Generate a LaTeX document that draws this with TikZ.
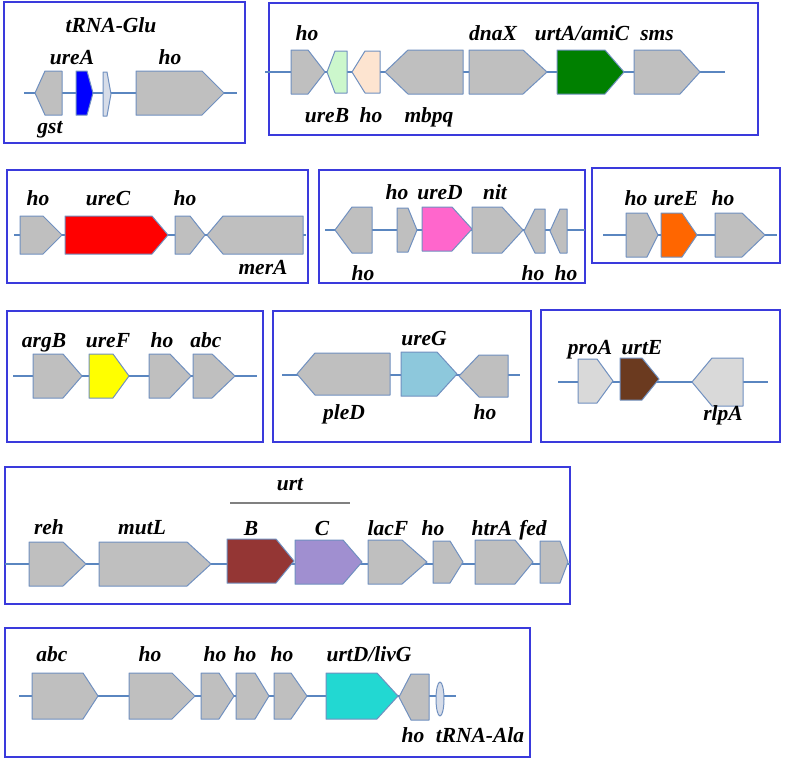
\documentclass[tikz,border=0pt]{standalone}
\usepackage{fontspec}
\setmainfont{Liberation Serif}
\definecolor{genegray}{HTML}{BFBFBF}
\definecolor{geneedge}{HTML}{7090C0}
\definecolor{backbone}{HTML}{5A86C0}
\definecolor{framecol}{HTML}{3A3ADC}
\definecolor{ureBcol}{HTML}{CCF7CC}
\definecolor{peach}{HTML}{FDE4D0}
\definecolor{palegray}{HTML}{D9D9D9}
\definecolor{trnacol}{HTML}{D6DCE8}
\definecolor{ureAcol}{HTML}{0000FF}
\definecolor{urtAcol}{HTML}{008000}
\definecolor{ureCcol}{HTML}{FF0000}
\definecolor{ureDcol}{HTML}{FF66CC}
\definecolor{ureEcol}{HTML}{FF6600}
\definecolor{ureFcol}{HTML}{FFFF00}
\definecolor{ureGcol}{HTML}{8DC8DC}
\definecolor{urtEcol}{HTML}{6B3A1F}
\definecolor{urtBcol}{HTML}{943634}
\definecolor{urtCcol}{HTML}{A08FD0}
\definecolor{urtDcol}{HTML}{22D8D2}
\tikzset{
  panelbox/.style={draw=framecol, line width=1.7pt},
  bbline/.style={draw=backbone, line width=1.8pt},
  genebox/.style={draw=geneedge, line width=1pt, line join=round},
  lbl/.style={font=\bfseries\itshape\fontsize{21.5}{25}\selectfont, inner sep=0pt, text height=14pt, text depth=0pt},
}
% right-pointing gene: x1, body end, tip x, y mid, half height, fill
\newcommand\gr[6]{\filldraw[genebox, fill=#6] (#1,#4-#5) -- (#2,#4-#5) -- (#3,#4) -- (#2,#4+#5) -- (#1,#4+#5) -- cycle;}
% left-pointing gene: tip x, body start, x2, y mid, half height, fill
\newcommand\gl[6]{\filldraw[genebox, fill=#6] (#3,#4-#5) -- (#2,#4-#5) -- (#1,#4) -- (#2,#4+#5) -- (#3,#4+#5) -- cycle;}
\begin{document}
\begin{tikzpicture}[x=1pt, y=-1pt]
\useasboundingbox[fill=white] (0,0) rectangle (787,763);

% ---------- Panel 1 ----------
\draw[panelbox] (4,2) rectangle (245,143);
\draw[bbline] (24,93) -- (237,93);
\gl{35}{45}{62}{93}{22}{genegray}
\gr{76}{87}{93}{93}{22}{ureAcol}
\gr{103}{107}{111}{94}{22}{trnacol}
\gr{136}{202}{224}{93}{22}{genegray}
\node[lbl] (p1a) at (111,25) {tRNA-Glu};
\node[lbl] (p1b) at (72,57) {ureA};
\node[lbl] (p1c) at (170,57) {ho};
\node[lbl] (p1d) at (50,126) {gst};

% ---------- Panel 2 ----------
\draw[panelbox] (269,3) rectangle (758,135);
\draw[bbline] (265,72) -- (725,72);
\gr{291}{308}{325}{72}{22}{genegray}
\gl{327}{335}{347}{72}{21}{ureBcol}
\gl{352}{365}{380}{72}{21}{peach}
\gl{385}{408}{463}{72}{22}{genegray}
\gr{469}{523}{547}{72}{22}{genegray}
\gr{557}{605}{624}{72}{22}{urtAcol}
\gr{634}{680}{700}{72}{22}{genegray}
\node[lbl] (p2a) at (307,33) {ho};
\node[lbl] (p2b) at (493,33) {dnaX};
\node[lbl] (p2c) at (582,33) {urtA/amiC};
\node[lbl] (p2d) at (657,33) {sms};
\node[lbl] (p2e) at (327,115) {ureB};
\node[lbl] (p2f) at (371,115) {ho};
\node[lbl] (p2g) at (429,115) {mbpq};

% ---------- Panel 3 ----------
\draw[panelbox] (7,170) rectangle (308,283);
\draw[bbline] (14,235) -- (306,235);
\gr{20}{43}{62}{235}{19}{genegray}
\gr{65}{152}{168}{235}{19}{ureCcol}
\gr{175}{190}{205}{235}{19}{genegray}
\gl{207}{223}{303}{235}{19}{genegray}
\node[lbl] (p3a) at (38,198) {ho};
\node[lbl] (p3b) at (108,198) {ureC};
\node[lbl] (p3c) at (185,198) {ho};
\node[lbl] (p3d) at (263,267) {merA};

% ---------- Panel 4 ----------
\draw[panelbox] (319,170) rectangle (585,283);
\draw[bbline] (325,230) -- (585,230);
\gl{335}{352}{372}{230}{23}{genegray}
\gr{397}{408}{417}{230}{22}{genegray}
\gr{422}{452}{472}{229}{22}{ureDcol}
\gr{472}{502}{523}{230}{23}{genegray}
\gl{524}{535}{545}{231}{22}{genegray}
\gl{550}{560}{567}{231}{22}{genegray}
\node[lbl] (p4a) at (397,192) {ho};
\node[lbl] (p4b) at (440,192) {ureD};
\node[lbl] (p4c) at (495,192) {nit};
\node[lbl] (p4d) at (363,273) {ho};
\node[lbl] (p4e) at (533,273) {ho};
\node[lbl] (p4f) at (566,273) {ho};

% ---------- Panel 5 ----------
\draw[panelbox] (592,168) rectangle (780,263);
\draw[bbline] (603,235) -- (777,235);
\gr{626}{647}{658}{235}{22}{genegray}
\gr{661}{682}{697}{235}{22}{ureEcol}
\gr{715}{742}{765}{235}{22}{genegray}
\node[lbl] (p5a) at (636,198) {ho};
\node[lbl] (p5b) at (676,198) {ureE};
\node[lbl] (p5c) at (723,198) {ho};

% ---------- Panel 6 ----------
\draw[panelbox] (7,311) rectangle (263,442);
\draw[bbline] (13,376) -- (257,376);
\gr{33}{63}{82}{376}{22}{genegray}
\gr{89}{113}{129}{376}{22}{ureFcol}
\gr{149}{170}{191}{376}{22}{genegray}
\gr{193}{212}{235}{376}{22}{genegray}
\node[lbl] (p6a) at (44,340) {argB};
\node[lbl] (p6b) at (108,340) {ureF};
\node[lbl] (p6c) at (162,340) {ho};
\node[lbl] (p6d) at (206,340) {abc};

% ---------- Panel 7 ----------
\draw[panelbox] (273,311) rectangle (531,442);
\draw[bbline] (282,375) -- (520,375);
\gl{297}{315}{390}{374}{21}{genegray}
\gr{401}{437}{457}{374}{22}{ureGcol}
\gl{459}{479}{508}{376}{21}{genegray}
\node[lbl] (p7a) at (424,338) {ureG};
\node[lbl] (p7b) at (344,412) {pleD};
\node[lbl] (p7c) at (485,412) {ho};

% ---------- Panel 8 ----------
\draw[panelbox] (541,310) rectangle (780,442);
\draw[bbline] (558,382) -- (768,382);
\gr{578}{597}{613}{381}{22}{palegray}
\gr{620}{642}{659}{379}{21}{urtEcol}
\gl{692}{712}{743}{382}{24}{palegray}
\node[lbl] (p8a) at (590,347) {proA};
\node[lbl] (p8b) at (642,347) {urtE};
\node[lbl] (p8c) at (723,413) {rlpA};

% ---------- Panel 9 ----------
\draw[panelbox] (5,467) rectangle (570,604);
\draw[bbline] (5,564) -- (570,564);
\gr{29}{63}{86}{564}{22}{genegray}
\gr{99}{187}{211}{564}{22}{genegray}
\gr{227}{276}{294}{561}{22}{urtBcol}
\gr{295}{343}{362}{562}{22}{urtCcol}
\gr{368}{402}{427}{562}{22}{genegray}
\gr{433}{450}{463}{562}{21}{genegray}
\gr{475}{515}{533}{562}{22}{genegray}
\gr{540}{560}{568}{562}{21}{genegray}
\draw[gray, line width=1.5pt] (230,503) -- (350,503);
\node[lbl] (p9u) at (290,483) {urt};
\node[lbl] (p9a) at (49,527) {reh};
\node[lbl] (p9b) at (142,527) {mutL};
\node[lbl] (p9c) at (251,528) {B};
\node[lbl] (p9d) at (322,528) {C};
\node[lbl] (p9e) at (388,528) {lacF};
\node[lbl] (p9f) at (433,528) {ho};
\node[lbl] (p9g) at (492,528) {htrA};
\node[lbl] (p9h) at (533,528) {fed};

% ---------- Panel 10 ----------
\draw[panelbox] (5,628) rectangle (530,757);
\draw[bbline] (19,696) -- (456,696);
\gr{32}{83}{98}{696}{23}{genegray}
\gr{129}{172}{195}{696}{23}{genegray}
\gr{201}{219}{234}{696}{23}{genegray}
\gr{236}{255}{269}{696}{23}{genegray}
\gr{274}{291}{307}{696}{23}{genegray}
\gr{326}{377}{398}{696}{23}{urtDcol}
\gl{399}{411}{429}{697}{23}{genegray}
\filldraw[genebox, fill=trnacol] (440,699) ellipse [x radius=4, y radius=17];
\node[lbl] (q1) at (52,654) {abc};
\node[lbl] (q2) at (150,654) {ho};
\node[lbl] (q3) at (215,654) {ho};
\node[lbl] (q4) at (245,654) {ho};
\node[lbl] (q5) at (282,654) {ho};
\node[lbl] (q6) at (369,654) {urtD/livG};
\node[lbl] (q7) at (413,735) {ho};
\node[lbl] (q8) at (480,735) {tRNA-Ala};
\end{tikzpicture}
\end{document}
